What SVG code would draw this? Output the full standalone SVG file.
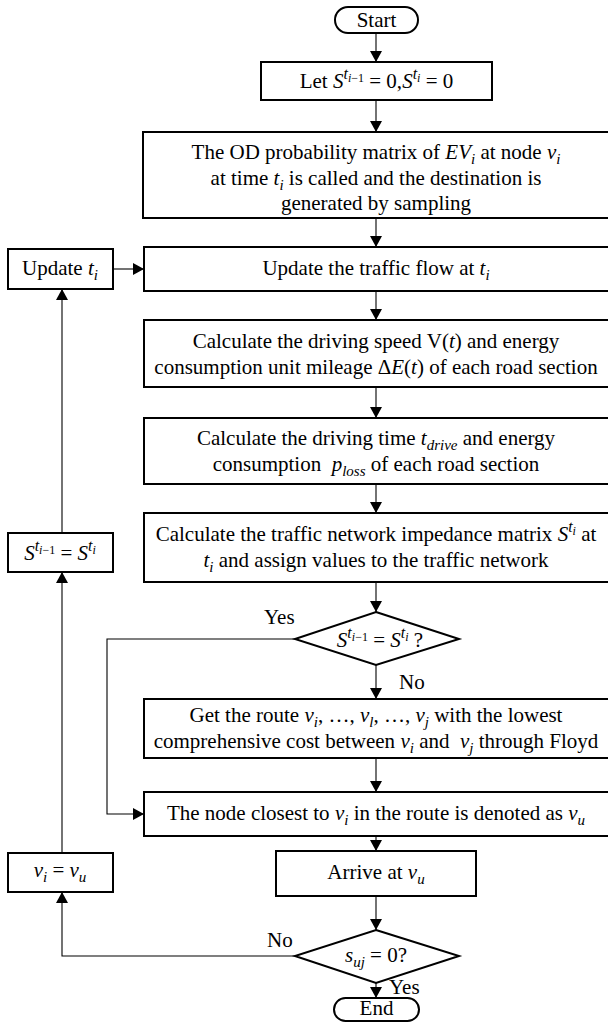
<svg xmlns="http://www.w3.org/2000/svg" width="608" height="1023" viewBox="0 0 608 1023" font-family="Liberation Serif" font-size="21">
<style>
.box{fill:#fff;stroke:#000;stroke-width:2}
.ln{fill:none;stroke:#000;stroke-width:1.1}
.m{font-style:italic}
.s{font-size:15px}
.sp{font-size:16px}
.ss{font-size:12px}
</style>
<defs>
<marker id="ah" markerUnits="userSpaceOnUse" markerWidth="12" markerHeight="12" refX="11" refY="6" orient="auto">
<path d="M0,0 L11,6 L0,12 z" fill="#000"/>
</marker>
</defs>
<g id="connectors">
<line class="ln" x1="376" y1="33" x2="376" y2="62" marker-end="url(#ah)"/>
<line class="ln" x1="376" y1="100" x2="376" y2="132" marker-end="url(#ah)"/>
<line class="ln" x1="376" y1="218" x2="376" y2="247" marker-end="url(#ah)"/>
<line class="ln" x1="376" y1="291" x2="376" y2="320" marker-end="url(#ah)"/>
<line class="ln" x1="376" y1="387" x2="376" y2="418" marker-end="url(#ah)"/>
<line class="ln" x1="376" y1="484" x2="376" y2="513" marker-end="url(#ah)"/>
<line class="ln" x1="376" y1="582" x2="376" y2="612" marker-end="url(#ah)"/>
<line class="ln" x1="376" y1="665" x2="376" y2="699" marker-end="url(#ah)"/>
<line class="ln" x1="376" y1="758" x2="376" y2="792" marker-end="url(#ah)"/>
<line class="ln" x1="376" y1="836" x2="376" y2="851" marker-end="url(#ah)"/>
<line class="ln" x1="376" y1="896" x2="376" y2="930" marker-end="url(#ah)"/>
<line class="ln" x1="376" y1="983" x2="376" y2="998" marker-end="url(#ah)"/>
<polyline class="ln" points="295,956 62,956 62,892" marker-end="url(#ah)"/>
<line class="ln" x1="62" y1="853" x2="62" y2="572" marker-end="url(#ah)"/>
<line class="ln" x1="62" y1="533" x2="62" y2="289" marker-end="url(#ah)"/>
<line class="ln" x1="113" y1="269" x2="144" y2="269" marker-end="url(#ah)"/>
<polyline class="ln" points="295,639 107,639 107,814 144,814" marker-end="url(#ah)"/>
<text x="264" y="624">Yes</text>
<text x="399" y="689">No</text>
<text x="267" y="947">No</text>
<text x="389" y="994">Yes</text>
</g>
<g id="start">
<rect class="box" x="335" y="7" width="83" height="26" rx="13"/>
<text x="376.5" y="27" text-anchor="middle">Start</text>
</g>
<g id="init">
<rect class="box" x="261" y="62" width="231" height="38"/>
<text x="376.5" y="88" text-anchor="middle">Let <tspan class="m">S</tspan><tspan class="m sp" dy="-9">t</tspan><tspan class="m ss" dy="3">i</tspan><tspan class="ss">−1</tspan><tspan dy="6"> = 0,</tspan><tspan class="m">S</tspan><tspan class="m sp" dy="-9">t</tspan><tspan class="m ss" dy="3">i</tspan><tspan dy="6"> = 0</tspan></text>
</g>
<g id="od">
<rect class="box" x="143" y="132" width="470" height="86"/>
<text x="376" y="159" text-anchor="middle">The OD probability matrix of <tspan class="m">EV</tspan><tspan class="m s" dy="5">i</tspan><tspan dy="-5"> at node </tspan><tspan class="m">v</tspan><tspan class="m s" dy="5">i</tspan></text>
<text x="376" y="185" text-anchor="middle">at time <tspan class="m">t</tspan><tspan class="m s" dy="5">i</tspan><tspan dy="-5"> is called and the destination is</tspan></text>
<text x="376" y="210" text-anchor="middle">generated by sampling</text>
</g>
<g id="update-t">
<rect class="box" x="8" y="249" width="105" height="40"/>
<text x="60" y="275" text-anchor="middle">Update <tspan class="m">t</tspan><tspan class="m s" dy="5">i</tspan></text>
</g>
<g id="flow">
<rect class="box" x="144" y="247" width="470" height="44"/>
<text x="376" y="275" text-anchor="middle">Update the traffic flow at <tspan class="m">t</tspan><tspan class="m s" dy="5">i</tspan></text>
</g>
<g id="speed">
<rect class="box" x="144" y="320" width="470" height="67"/>
<text x="376" y="348" text-anchor="middle">Calculate the driving speed V(<tspan class="m">t</tspan>) and energy</text>
<text x="376" y="374" text-anchor="middle">consumption unit mileage Δ<tspan class="m">E</tspan>(<tspan class="m">t</tspan>) of each road section</text>
</g>
<g id="drive">
<rect class="box" x="144" y="418" width="470" height="66"/>
<text x="376" y="445" text-anchor="middle">Calculate the driving time <tspan class="m">t</tspan><tspan class="m s" dy="5">drive</tspan><tspan dy="-5"> and energy</tspan></text>
<text x="376" y="471" text-anchor="middle">consumption&#160; <tspan class="m">p</tspan><tspan class="m s" dy="5">loss</tspan><tspan dy="-5"> of each road section</tspan></text>
</g>
<g id="impedance">
<rect class="box" x="144" y="513" width="470" height="69"/>
<text x="376" y="541" text-anchor="middle">Calculate the traffic network impedance matrix <tspan class="m">S</tspan><tspan class="m sp" dy="-9">t</tspan><tspan class="m ss" dy="3">i</tspan><tspan dy="6"> at</tspan></text>
<text x="376" y="567" text-anchor="middle"><tspan class="m">t</tspan><tspan class="m s" dy="5">i</tspan><tspan dy="-5"> and assign values to the traffic network</tspan></text>
</g>
<g id="decision1">
<polygon class="box" points="376,612 459,639 376,665 295,639"/>
<text x="380" y="647" text-anchor="middle"><tspan class="m">S</tspan><tspan class="m sp" dy="-9">t</tspan><tspan class="m ss" dy="3">i</tspan><tspan class="ss">−1</tspan><tspan dy="6"> = </tspan><tspan class="m">S</tspan><tspan class="m sp" dy="-9">t</tspan><tspan class="m ss" dy="3">i</tspan><tspan dy="6"> ?</tspan></text>
</g>
<g id="route">
<rect class="box" x="144" y="699" width="470" height="59"/>
<text x="376" y="722" text-anchor="middle">Get the route <tspan class="m">v</tspan><tspan class="m s" dy="5">i</tspan><tspan dy="-5">, …, </tspan><tspan class="m">v</tspan><tspan class="m s" dy="5">l</tspan><tspan dy="-5">, …, </tspan><tspan class="m">v</tspan><tspan class="m s" dy="5">j</tspan><tspan dy="-5"> with the lowest</tspan></text>
<text x="376" y="748" text-anchor="middle">comprehensive cost between <tspan class="m">v</tspan><tspan class="m s" dy="5">i</tspan><tspan dy="-5"> and&#160; </tspan><tspan class="m">v</tspan><tspan class="m s" dy="5">j</tspan><tspan dy="-5"> through Floyd</tspan></text>
</g>
<g id="closest">
<rect class="box" x="144" y="792" width="470" height="44"/>
<text x="376" y="820" text-anchor="middle">The node closest to <tspan class="m">v</tspan><tspan class="m s" dy="5">i</tspan><tspan dy="-5"> in the route is denoted as </tspan><tspan class="m">v</tspan><tspan class="m s" dy="5">u</tspan></text>
</g>
<g id="s-update">
<rect class="box" x="8" y="533" width="105" height="39"/>
<text x="60" y="560" text-anchor="middle"><tspan class="m">S</tspan><tspan class="m sp" dy="-9">t</tspan><tspan class="m ss" dy="3">i</tspan><tspan class="ss">−1</tspan><tspan dy="6"> = </tspan><tspan class="m">S</tspan><tspan class="m sp" dy="-9">t</tspan><tspan class="m ss" dy="3">i</tspan></text>
</g>
<g id="v-update">
<rect class="box" x="8" y="853" width="105" height="39"/>
<text x="60" y="877" text-anchor="middle"><tspan class="m">v</tspan><tspan class="m s" dy="5">i</tspan><tspan dy="-5"> = </tspan><tspan class="m">v</tspan><tspan class="m s" dy="5">u</tspan></text>
</g>
<g id="arrive">
<rect class="box" x="276" y="851" width="200" height="45"/>
<text x="376" y="879" text-anchor="middle">Arrive at <tspan class="m">v</tspan><tspan class="m s" dy="5">u</tspan></text>
</g>
<g id="decision2">
<polygon class="box" points="376,930 459,956 376,983 295,956"/>
<text x="376" y="962" text-anchor="middle"><tspan class="m">s</tspan><tspan class="m s" dy="5">uj</tspan><tspan dy="-5"> = 0?</tspan></text>
</g>
<g id="end">
<rect class="box" x="334" y="998" width="85" height="23" rx="11.5"/>
<text x="376.5" y="1015" text-anchor="middle">End</text>
</g>
</svg>
